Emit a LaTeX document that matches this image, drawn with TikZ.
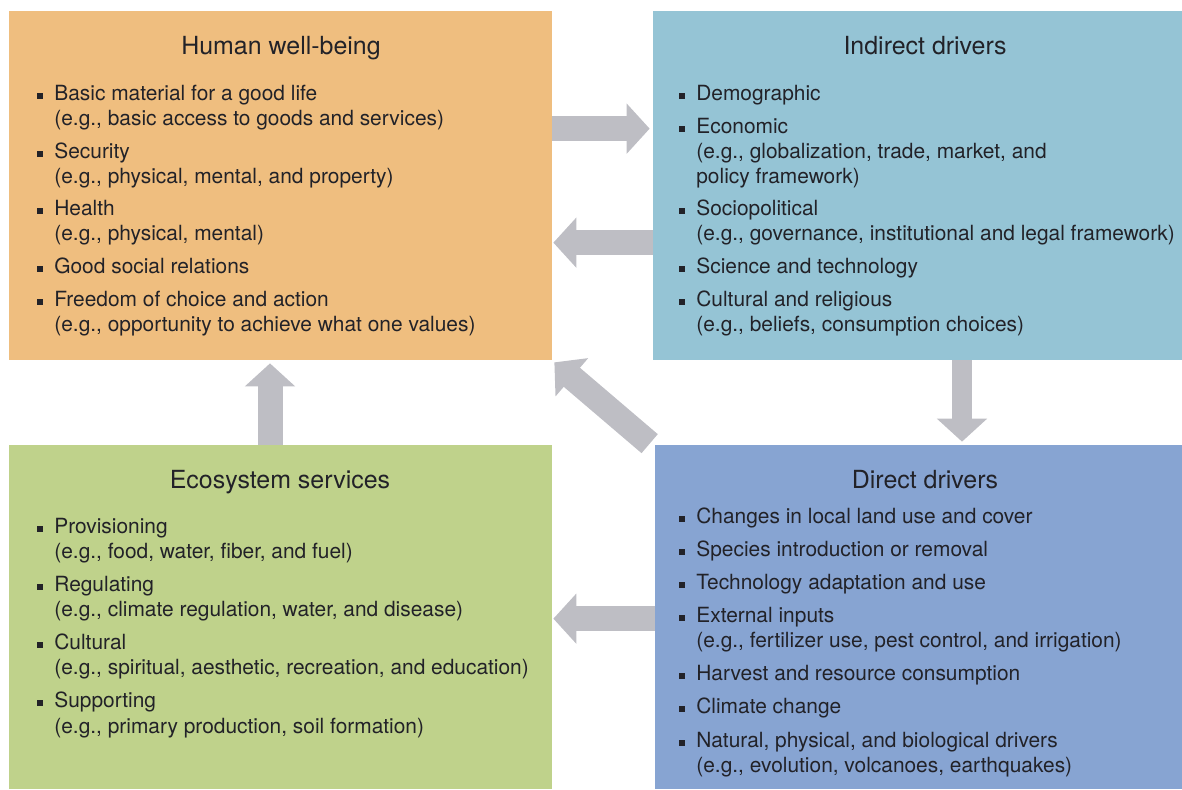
\documentclass[tikz,border=0pt]{standalone}
\usepackage{fontspec}
\setmainfont{TeX Gyre Heros}
\usetikzlibrary{arrows.meta,backgrounds,calc,fit}
\definecolor{hwbfill}{RGB}{239,190,127}
\definecolor{indfill}{RGB}{149,196,213}
\definecolor{ecofill}{RGB}{191,210,139}
\definecolor{dirfill}{RGB}{135,164,210}
\definecolor{arrowgray}{RGB}{190,190,196}
\definecolor{inkgray}{RGB}{34,34,40}
\newcommand{\bul}{\llap{\rule[0.07em]{0.27em}{0.27em}\hspace{0.55em}}}

\begin{document}
\begin{tikzpicture}[
  x=0.02cm,
  y=-0.02cm,
  panel/.style={
    draw=none,
    inner sep=0pt
  },
  panel title/.style={
    anchor=base,
    inner sep=0pt,
    text=inkgray,
    font=\fontsize{14.2pt}{17pt}\selectfont
  },
  line text/.style={
    anchor=base west,
    inner sep=0pt,
    text=inkgray,
    font=\fontsize{11.9pt}{14pt}\selectfont
  },
  fat arrow/.style={
    draw=arrowgray,
    line width=0.5cm,
    -{Triangle[length=0.46cm,width=0.98cm]}
  }
]

\useasboundingbox (0,0) rectangle (1182,789);

% Named panel corners, the panels are fitted to them.
\foreach \pname/\xmin/\ymin/\xmax/\ymax in {
  hwb/9/11/552/360,
  ind/653/11/1182/360,
  eco/9/445/552/789,
  dir/655/445/1182/789
}{
  \coordinate (\pname-nw) at (\xmin,\ymin);
  \coordinate (\pname-se) at (\xmax,\ymax);
}

\node[panel, fill=hwbfill, fit=(hwb-nw)(hwb-se)] (hwb) {};
\node[panel, fill=indfill, fit=(ind-nw)(ind-se)] (ind) {};
\node[panel, fill=ecofill, fit=(eco-nw)(eco-se)] (eco) {};
\node[panel, fill=dirfill, fit=(dir-nw)(dir-se)] (dir) {};

% Human well-being
\node[panel title] (hwb-title) at (281,54) {Human well-being};
\foreach \yy/\txt [count=\i] in {
  100/{\bul Basic material for a good life},
  125/{(e.g., basic access to goods and services)},
  158/{\bul Security},
  183/{(e.g., physical, mental, and property)},
  215/{\bul Health},
  240/{(e.g., physical, mental)},
  273/{\bul Good social relations},
  306/{\bul Freedom of choice and action},
  331/{(e.g., opportunity to achieve what one values)}
}{
  \node[line text] (hwb-l\i) at (54,\yy) {\txt};
}

% Indirect drivers
\node[panel title] (ind-title) at (925,54) {Indirect drivers};
\foreach \yy/\txt [count=\i] in {
  100/{\bul Demographic},
  133/{\bul Economic},
  158/{(e.g., globalization, trade, market, and},
  183/{policy framework)},
  215/{\bul Sociopolitical},
  240/{(e.g., governance, institutional and legal framework)},
  273/{\bul Science and technology},
  306/{\bul Cultural and religious},
  331/{(e.g., beliefs, consumption choices)}
}{
  \node[line text] (ind-l\i) at (696,\yy) {\txt};
}

% Ecosystem services
\node[panel title] (eco-title) at (280,488) {Ecosystem services};
\foreach \yy/\txt [count=\i] in {
  533/{\bul Provisioning},
  558/{(e.g., food, water, fiber, and fuel)},
  591/{\bul Regulating},
  616/{(e.g., climate regulation, water, and disease)},
  649/{\bul Cultural},
  674/{(e.g., spiritual, aesthetic, recreation, and education)},
  707/{\bul Supporting},
  733/{(e.g., primary production, soil formation)}
}{
  \node[line text] (eco-l\i) at (54,\yy) {\txt};
}

% Direct drivers
\node[panel title] (dir-title) at (925,488) {Direct drivers};
\foreach \yy/\txt [count=\i] in {
  523/{\bul Changes in local land use and cover},
  556/{\bul Species introduction or removal},
  589/{\bul Technology adaptation and use},
  622/{\bul External inputs},
  647/{(e.g., fertilizer use, pest control, and irrigation)},
  680/{\bul Harvest and resource consumption},
  713/{\bul Climate change},
  747/{\bul Natural, physical, and biological drivers},
  772/{(e.g., evolution, volcanoes, earthquakes)}
}{
  \node[line text] (dir-l\i) at (696,\yy) {\txt};
}

% Block arrows between the panels, kept behind them.
\begin{scope}[on background layer]
  \draw[fat arrow] ($(hwb.north east)+(0,118)$) -- ($(ind.north west)+(-3,118)$);
  \draw[fat arrow] ($(ind.north west)+(0,232)$) -- ($(hwb.north east)+(1,232)$);
  \draw[fat arrow] ($(eco.north)+(-10.5,0)$) -- ($(hwb.south)+(-10.5,3)$);
  \draw[fat arrow] ($(dir.north west)+(-5,-1)$) -- ($(hwb.south east)+(2,2)$);
  \draw[fat arrow, line width=0.4cm] ($(ind.south)+(44.5,0)$) -- ($(dir.north)+(43.5,-3)$);
  \draw[fat arrow] ($(dir.north west)+(0,174)$) -- ($(eco.north east)+(1,174)$);
\end{scope}

\end{tikzpicture}
\end{document}
